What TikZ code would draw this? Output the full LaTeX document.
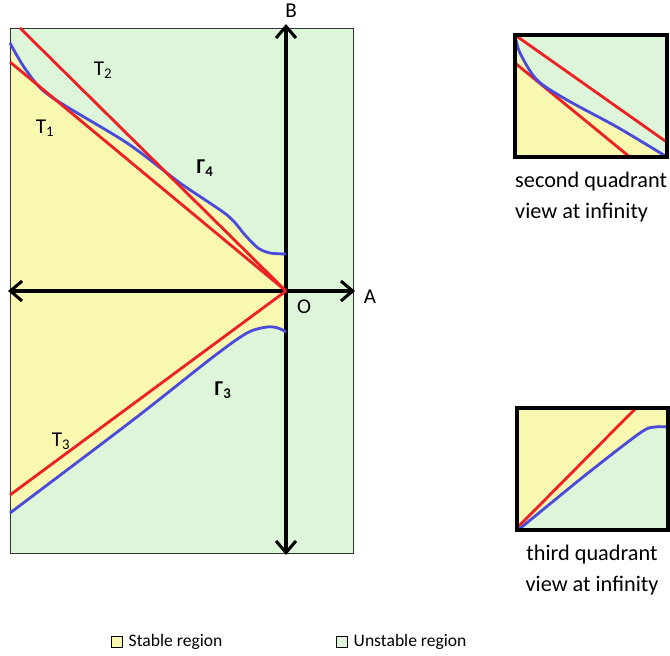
\documentclass[tikz,border=0pt]{standalone}
\usepackage{fontspec}
\setmainfont{Carlito}
\usetikzlibrary{arrows.meta, positioning}
\definecolor{stablefill}{HTML}{F8F8B0}
\definecolor{unstablefill}{HTML}{DDF6DA}
\definecolor{tred}{HTML}{EE2024}
\definecolor{gblue}{HTML}{4A4ADB}

\begin{document}
\begin{tikzpicture}[
  x=0.03cm, y=-0.03cm,
  font=\fontsize{18}{21}\selectfont,
  >={Straight Barb[length=10pt, width=17pt]},
  axis/.style={draw=black, line width=2.6pt, <->},
  tline/.style={draw=tred, line width=2.4pt},
  gline/.style={draw=gblue, line width=2.4pt},
  frame/.style={draw=black, line width=2.6pt},
  lab/.style={inner sep=0pt},
  caption/.style={inner sep=0pt, align=left, font=\fontsize{19}{27}\selectfont},
  legbox/.style={draw=black, line width=0.6pt, minimum size=9pt, inner sep=0pt},
]
  \useasboundingbox (0,0) rectangle (670,656);

  % --- regions ----------------------------------------------------
  \fill[unstablefill] (10,28) rectangle (353,553);
  \fill[stablefill] (286,291) -- (10,291) -- plot[smooth] coordinates {(10,43) (26,70) (50,96) (127,143) (180,183) (227,215) (245,235) (258,248) (270,253) (286,254)} -- cycle;
  \fill[stablefill] (286,291) -- (10,291) -- plot[smooth] coordinates {(10,513) (133,420) (213,357) (247,333) (267,327) (278,328) (286,332)} -- cycle;
  \draw[line width=0.8pt, black!80] (10,28) rectangle (353,553);

  % --- axes -------------------------------------------------------
  \coordinate (O) at (286,291);
  \coordinate (Aend) at (355,291);
  \coordinate (Aleft) at (8,291);
  \coordinate (Btop) at (286,24);
  \coordinate (Bbot) at (286,555);
  \draw[axis] (Aleft) -- (Aend);
  \draw[axis] (Bbot) -- (Btop);

  % --- tangent lines and curves -----------------------------------
  \coordinate (t1) at (10,62);
  \coordinate (t2) at (20,28);
  \coordinate (t3) at (10,495);
  \draw[gline] plot[smooth] coordinates {(10,43) (26,70) (50,96) (127,143) (180,183) (227,215) (245,235) (258,248) (270,253) (286,254)};
  \draw[gline] plot[smooth] coordinates {(10,513) (133,420) (213,357) (247,333) (267,327) (278,328) (286,332)};
  \draw[tline] (t1) -- (O);
  \draw[tline] (t2) -- (O);
  \draw[tline] (O) -- (t3);

  % --- labels -----------------------------------------------------
  \node[lab] (lB) at (291,11) {B};
  \node[lab] (lA) at (370,297) {A};
  \node[lab] (lO) at (304,307) {O};
  \node[lab] (lT2) at (103,70) {T\textsubscript{2}};
  \node[lab] (lT1) at (45,128) {T\textsubscript{1}};
  \node[lab] (lT3) at (61,441) {T\textsubscript{3}};
  \node[lab, font=\fontsize{18}{21}\selectfont\bfseries] (lG4) at (205,168) {Γ\textsubscript{4}};
  \node[lab, font=\fontsize{18}{21}\selectfont\bfseries] (lG3) at (223,390) {Γ\textsubscript{3}};

  % --- second quadrant at infinity --------------------------------
  \begin{scope}
    \clip (515,35) rectangle (667,157);
    \fill[unstablefill] (515,35) rectangle (667,157);
    \fill[stablefill] (515,157) -- plot[smooth] coordinates {(515,35) (520,53) (537,80) (567,100) (617,127) (667,157)} -- cycle;
    \draw[tline] (515,35) -- (668,143);
    \draw[tline] (515,63) -- (631,158);
    \draw[gline] plot[smooth] coordinates {(515,35) (520,53) (537,80) (567,100) (617,127) (667,157)};
  \end{scope}
  \draw[frame] (515,35) rectangle (667,157);
  \node[caption, anchor=west] (cap2) at (515,197) {second quadrant\\view at infinity};

  % --- third quadrant at infinity ---------------------------------
  \begin{scope}
    \clip (517,408) rectangle (668,530);
    \fill[stablefill] (517,408) rectangle (668,530);
    \fill[unstablefill] plot[smooth] coordinates {(517,531) (583,477) (640,433) (655,427) (668,427)} -- (668,530) -- cycle;
    \draw[tline] (516,529) -- (637,407);
    \draw[gline] plot[smooth] coordinates {(517,531) (583,477) (640,433) (655,427) (668,427)};
  \end{scope}
  \draw[frame] (517,408) rectangle (668,530);
  \node[caption, align=center] (cap3) at (592,570) {third quadrant\\view at infinity};

  % --- legend -----------------------------------------------------
  \node[legbox, fill=stablefill] (kst) at (117,642) {};
  \node[lab, right=5pt of kst, font=\fontsize{15}{18}\selectfont] (lst) {Stable region};
  \node[legbox, fill=unstablefill] (kun) at (342,642) {};
  \node[lab, right=5pt of kun, font=\fontsize{15}{18}\selectfont] (lun) {Unstable region};
\end{tikzpicture}
\end{document}
